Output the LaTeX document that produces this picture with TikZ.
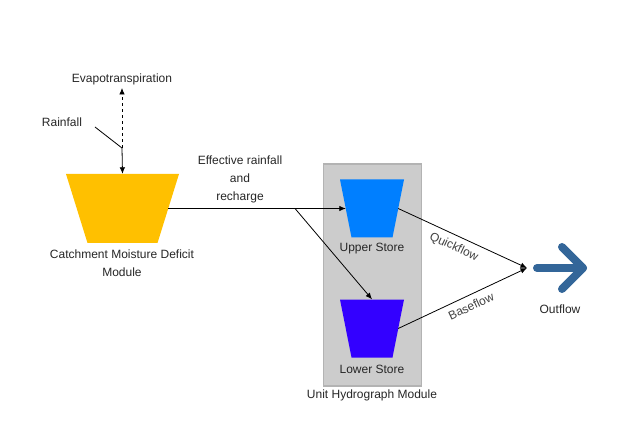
\documentclass[tikz,border=0pt]{standalone}
\usepackage{fontspec}
\setmainfont{Liberation Sans}
\usetikzlibrary{arrows.meta,positioning}

\definecolor{cmdyellow}{RGB}{255,192,0}
\definecolor{upperblue}{RGB}{0,127,255}
\definecolor{lowerblue}{RGB}{51,0,255}
\definecolor{boxgray}{RGB}{204,204,204}
\definecolor{boxedge}{RGB}{179,179,179}
\definecolor{outblue}{RGB}{51,102,153}

\begin{document}
\begin{tikzpicture}[x=1pt,y=-1pt,
  every node/.style={font=\fontsize{12}{18}\selectfont,text=black!85},
  tank/.style 2 args={inner sep=0pt,path picture={
    \fill[#1] (path picture bounding box.north west)--(path picture bounding box.north east)
      --([xshift=-#2]path picture bounding box.south east)--([xshift=#2]path picture bounding box.south west)--cycle;}},
  flow/.style={-{Latex[length=6.5pt,width=5.5pt]},line width=0.8pt}]
\useasboundingbox (0,0) rectangle (622,441);

% moisture deficit module
\node[tank={cmdyellow}{21.5pt},minimum width=113pt,minimum height=69pt] (cmd) at (122.5,208.5) {};
\node[align=center] (cmdlabel) at (122,263) {Catchment Moisture Deficit\\Module};

% rainfall and evapotranspiration
\coordinate (evtop) at (122,88);
\coordinate (rjoin) at (122,148);
\coordinate (rstart) at (95,127);
\node (evlabel) at (122,79) {Evapotranspiration};
\node (rainlabel) at (62,122) {Rainfall};
\draw[line width=0.8pt] (rstart)--(rjoin);
\draw[flow,dashed] (rjoin)--(evtop);
\draw[flow] (rjoin)--(cmd.north);

% unit hydrograph module
\node[draw=boxedge,fill=boxgray,line width=1.5pt,minimum width=98pt,minimum height=222pt] (uhm) at (372.5,275) {};
\node (uhmlabel) at (372,395) {Unit Hydrograph Module};
\node[tank={upperblue}{11.5pt},minimum width=64pt,minimum height=58pt] (us) at (372,208.5) {};
\node[tank={lowerblue}{11.5pt},minimum width=64pt,minimum height=58pt] (ls) at (372,328.5) {};
\node (uslabel) at (372,249) {Upper Store};
\node (lslabel) at (372,369) {Lower Store};

% effective rainfall
\coordinate (split) at (295,208.5);
\node[align=center] (erlabel) at (240,179) {Effective rainfall\\and\\recharge};
\draw[flow] ([xshift=-11pt]cmd.east)--([xshift=6pt]us.west);
\draw[flow] (split)--(ls.north);

% outflow
\coordinate (outjoin) at (527,268);
\coordinate (shaft) at (537,268);
\coordinate (tip) at (583,268);
\draw[flow] ([xshift=-6pt]us.east)--(outjoin) node[pos=0.47,below=2.5pt,sloped,text=black!75] {Quickflow};
\draw[flow] ([xshift=-6pt]ls.east)--(outjoin) node[pos=0.53,below=2.5pt,sloped,text=black!75] {Baseflow};
\draw[outblue,line width=8pt,line cap=round,line join=round] (shaft)--(tip);
\draw[outblue,line width=8pt,line cap=round,line join=round] (562,247)--(tip)--(562,289);
\node (outlabel) at (560,309) {Outflow};

\end{tikzpicture}
\end{document}
